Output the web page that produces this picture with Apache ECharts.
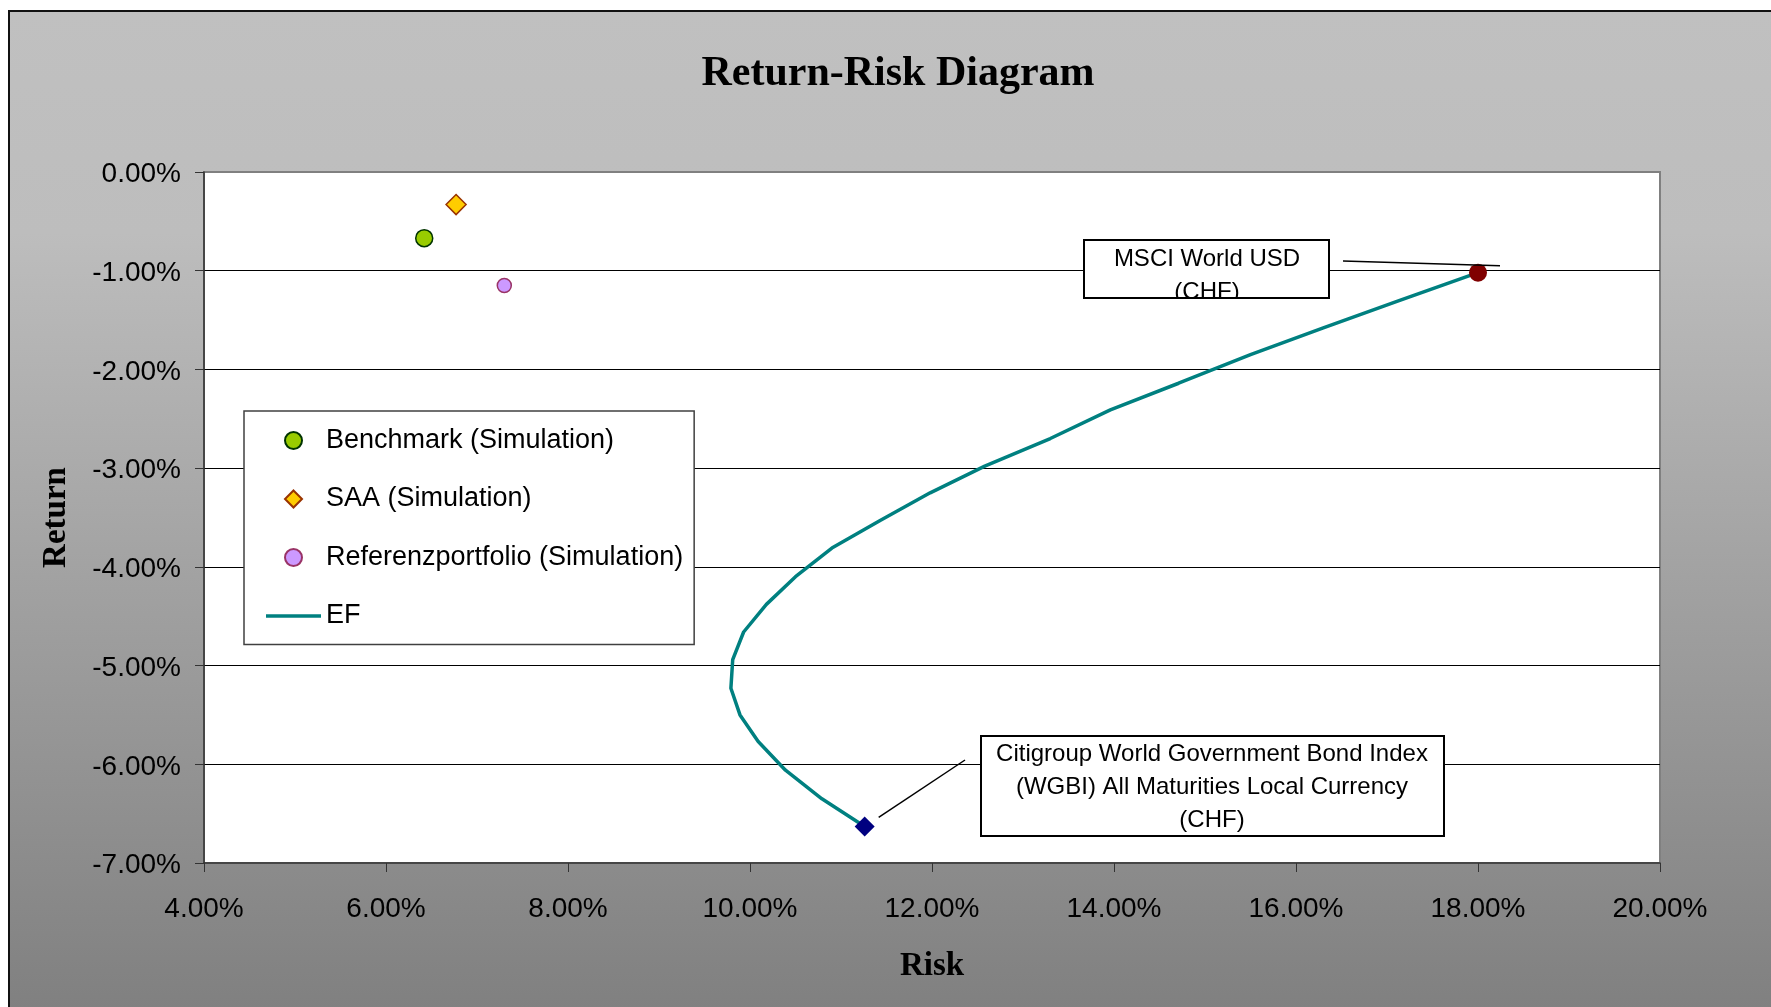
<!DOCTYPE html>
<html>
<head>
<meta charset="utf-8">
<title>Return-Risk Diagram</title>
<script src="https://cdn.jsdelivr.net/npm/echarts@6/dist/echarts.min.js"></script>
<style>
	html, body { margin: 0; padding: 0; background: #fff; }
	#main { width: 1771px; height: 1007px; }
</style>
</head>
<body>
<div id="main"></div>
<script>
// axis ranges (percent)
const riskMin = 4, riskMax = 20, riskStep = 2;
const returnMin = -7, returnMax = 0, returnStep = 1;

// single portfolios [risk, return] in %
const benchmark = [6.42, -0.67];
const saa = [6.77, -0.33];
const referenz = [7.30, -1.15];
const msci = [18.00, -1.02];
const wgbi = [11.26, -6.63];

// efficient frontier
const efRisk = [18.00, 17.14, 16.30, 15.50, 14.71, 13.96, 13.30, 12.58, 11.98, 11.43, 10.90,
	10.50, 10.18, 9.93, 9.81, 9.79, 9.89, 10.09, 10.39, 10.79, 11.26];
const efReturn = [-1.02, -1.30, -1.58, -1.85, -2.14, -2.41, -2.70, -2.98, -3.25, -3.53, -3.81,
	-4.10, -4.38, -4.66, -4.94, -5.23, -5.50, -5.77, -6.06, -6.35, -6.63];

const legendNames = ['Benchmark (Simulation)', 'SAA (Simulation)', 'Referenzportfolio (Simulation)', 'EF'];
const msciLabel = ['MSCI World USD', '(CHF)'];
const wgbiLabel = ['Citigroup World Government Bond Index', '(WGBI) All Maturities Local Currency', '(CHF)'];

const sans = '"Liberation Sans", Arial, sans-serif';
const serif = '"Liberation Serif", "Times New Roman", serif';

const efData = efRisk.map(function (r, i) { return [r, efReturn[i]]; });
const pct = function (v) { return v.toFixed(2) + '%'; };

// legend icons: plain line for EF, undistorted diamond for SAA
const legendIcons = {
	'SAA (Simulation)': 'path://M8.5,0L17,8.5L8.5,17L0,8.5Z',
	'EF': 'path://M0,0H55V3.5H0Z'
};

const chart = echarts.init(document.getElementById('main'), null, { renderer: 'canvas' });

const option = {
	animation: false,
	backgroundColor: '#fff',
	title: {
		text: 'Return-Risk Diagram',
		left: 893,
		top: 48,
		textAlign: 'center',
		textStyle: { fontFamily: serif, fontWeight: 'bold', fontSize: 42, color: '#000' }
	},
	grid: {
		left: 204, top: 172, width: 1456, height: 691,
		show: true,
		backgroundColor: '#fff',
		borderColor: '#808080',
		borderWidth: 2,
		containLabel: false,
		outerBoundsMode: 'none'
	},
	legend: {
		data: legendNames.map(function (n) {
			return legendIcons[n] ? { name: n, icon: legendIcons[n] } : { name: n };
		}),
		orient: 'vertical',
		left: 244,
		top: 411,
		padding: [16, 11, 15, 22],
		itemGap: 31.5,
		itemWidth: 55,
		itemHeight: 17,
		symbolKeepAspect: true,
		backgroundColor: '#fff',
		borderColor: '#404040',
		borderWidth: 1.5,
		textStyle: { fontFamily: sans, fontSize: 27, color: '#000' }
	},
	xAxis: {
		type: 'value',
		min: riskMin, max: riskMax, interval: riskStep,
		name: 'Risk',
		nameLocation: 'middle',
		nameGap: 87,
		nameTextStyle: { fontFamily: serif, fontWeight: 'bold', fontSize: 33, color: '#000' },
		axisLine: { show: true, onZero: false, lineStyle: { color: '#333', width: 1.5 } },
		axisTick: { show: true, inside: false, length: 9, lineStyle: { color: '#333', width: 1 } },
		axisLabel: { margin: 32, formatter: pct, fontFamily: sans, fontSize: 28, color: '#000' },
		splitLine: { show: false }
	},
	yAxis: {
		type: 'value',
		min: returnMin, max: returnMax, interval: returnStep,
		name: 'Return',
		nameLocation: 'middle',
		nameGap: 131,
		nameTextStyle: { fontFamily: serif, fontWeight: 'bold', fontSize: 33, color: '#000' },
		axisLine: { show: true, onZero: false, lineStyle: { color: '#333', width: 1.5 } },
		axisTick: { show: true, inside: false, length: 9, lineStyle: { color: '#333', width: 1 } },
		axisLabel: {
			margin: 23,
			formatter: function (v) { return '{v|' + pct(v) + '}'; },
			rich: { v: { padding: [5, 0, 0, 0], fontFamily: sans, fontSize: 28, color: '#000' } },
			fontFamily: sans, fontSize: 28, color: '#000'
		},
		splitLine: { show: true, showMinLine: false, showMaxLine: false, lineStyle: { color: '#000', width: 1 } }
	},
	series: [
		{
			name: 'EF', type: 'line', data: efData,
			symbol: 'none', showSymbol: false, z: 2,
			lineStyle: { color: '#008080', width: 3.5 },
			itemStyle: { color: '#008080' }
		},
		{
			name: 'Benchmark (Simulation)', type: 'scatter', data: [benchmark],
			symbol: 'circle', symbolSize: 17, z: 3,
			itemStyle: { color: '#99cc00', borderColor: '#003300', borderWidth: 1.5, opacity: 1 }
		},
		{
			name: 'SAA (Simulation)', type: 'scatter', data: [saa],
			symbol: 'diamond', symbolSize: 20, z: 3,
			itemStyle: { color: '#ffcc00', borderColor: '#993300', borderWidth: 1.5, opacity: 1 }
		},
		{
			name: 'Referenzportfolio (Simulation)', type: 'scatter', data: [referenz],
			symbol: 'circle', symbolSize: 14, z: 3,
			itemStyle: { color: '#cc99ff', borderColor: '#993366', borderWidth: 1.5, opacity: 1 }
		},
		{
			name: 'MSCI World USD (CHF)', type: 'scatter', data: [msci],
			symbol: 'circle', symbolSize: 18, z: 3,
			itemStyle: { color: '#800000', opacity: 1 }
		},
		{
			name: 'WGBI (CHF)', type: 'scatter', data: [wgbi],
			symbol: 'diamond', symbolSize: 20, z: 3,
			itemStyle: { color: '#000080', opacity: 1 }
		}
	],
	graphic: [
		{
			id: 'bg', type: 'rect', z: -100, silent: true,
			shape: { x: 9, y: 11, width: 1800, height: 1010 },
			style: {
				fill: new echarts.graphic.LinearGradient(0, 0, 0, 1, [
					{ offset: 0, color: '#c0c0c0' },
					{ offset: 0.22, color: '#bdbdbd' },
					{ offset: 1, color: '#7f7f7f' }
				]),
				stroke: '#111', lineWidth: 2
			}
		}
	]
};

chart.setOption(option);

// annotation boxes with leader lines to the end points
const pM = chart.convertToPixel({ gridIndex: 0 }, msci);
const pW = chart.convertToPixel({ gridIndex: 0 }, wgbi);

const annot = [];
// MSCI box, second line is cut off by the frame like in the original
annot.push({ id: 'mBox', type: 'rect', z: 50, shape: { x: 1084, y: 240, width: 245, height: 58 }, style: { fill: '#fff', stroke: null } });
annot.push({ id: 'mT0', type: 'text', z: 51, style: { text: msciLabel[0], x: 1207, y: 259, align: 'center', verticalAlign: 'middle', font: '24px ' + sans, fill: '#000' } });
annot.push({ id: 'mT1', type: 'text', z: 51, style: { text: msciLabel[1], x: 1207, y: 292, align: 'center', verticalAlign: 'middle', font: '24px ' + sans, fill: '#000' } });
annot.push({ id: 'mCover', type: 'rect', z: 52, shape: { x: 1090, y: 299, width: 235, height: 16 }, style: { fill: '#fff' } });
annot.push({ id: 'mFrame', type: 'rect', z: 53, shape: { x: 1084, y: 240, width: 245, height: 58 }, style: { fill: null, stroke: '#000', lineWidth: 2 } });
annot.push({ id: 'mLine', type: 'line', z: 53, shape: { x1: 1343, y1: 261, x2: pM[0] + 22, y2: pM[1] - 7 }, style: { stroke: '#000', lineWidth: 1.5 } });
// WGBI box
annot.push({ id: 'wBox', type: 'rect', z: 50, shape: { x: 981, y: 736, width: 463, height: 100 }, style: { fill: '#fff', stroke: '#000', lineWidth: 2 } });
wgbiLabel.forEach(function (t, i) {
	annot.push({ id: 'wT' + i, type: 'text', z: 51, style: { text: t, x: 1212, y: 754 + i * 33, align: 'center', verticalAlign: 'middle', font: '24px ' + sans, fill: '#000' } });
});
annot.push({ id: 'wLine', type: 'line', z: 53, shape: { x1: pW[0] + 14, y1: pW[1] - 9, x2: 965, y2: 760 }, style: { stroke: '#000', lineWidth: 1.5 } });

chart.setOption({ graphic: annot });
</script>
</body>
</html>
